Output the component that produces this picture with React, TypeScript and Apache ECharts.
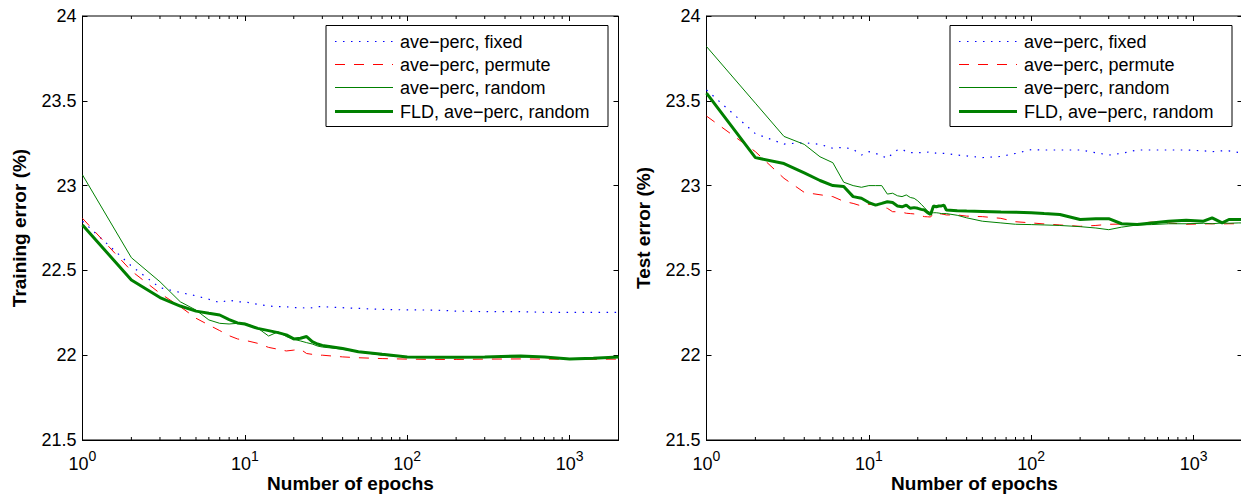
import React, { useEffect, useRef } from "react";
import * as echarts from "echarts";

const FONT = "'Liberation Sans', Arial, Helvetica, sans-serif";

const seriesNames = [
  "ave−perc, fixed",
  "ave−perc, permute",
  "ave−perc, random",
  "FLD, ave−perc, random",
];

const xMin = 1;
const xMax = 2000;
const yMin = 21.5;
const yMax = 24;
const yStep = 0.5;
const minorTickValues = [2, 3, 4, 5, 6, 7, 8, 9, 20, 30, 40, 50, 60, 70, 80, 90, 200, 300, 400, 500, 600, 700, 800, 900];

// Training error plot
const trainEpochs = [1, 2, 3, 4, 5, 6, 7, 8, 9, 10, 12, 14, 16, 18, 20, 22, 24, 26, 28, 30, 40, 50, 70, 100, 150, 200, 300, 500, 700, 1000, 1400, 2000];
const trainFixed = [22.79, 22.526, 22.398, 22.37, 22.35, 22.33, 22.31, 22.325, 22.315, 22.315, 22.3, 22.29, 22.286, 22.286, 22.28, 22.282, 22.276, 22.28, 22.286, 22.286, 22.28, 22.276, 22.27, 22.267, 22.266, 22.26, 22.257, 22.257, 22.253, 22.253, 22.253, 22.253];
const trainPermute = [22.807, 22.497, 22.365, 22.286, 22.218, 22.178, 22.145, 22.115, 22.096, 22.088, 22.07, 22.046, 22.035, 22.025, 22.03, 22.035, 22.01, 22.005, 22.0, 22.0, 21.99, 21.985, 21.98, 21.977, 21.975, 21.975, 21.977, 21.978, 21.977, 21.976, 21.976, 21.977];
const trainRandom = [23.063, 22.575, 22.433, 22.315, 22.266, 22.208, 22.188, 22.184, 22.188, 22.188, 22.16, 22.113, 22.138, 22.11, 22.094, 22.084, 22.074, 22.066, 22.054, 22.048, 22.035, 22.02, 22.0, 21.99, 21.987, 21.986, 21.986, 21.99, 21.988, 21.98, 21.983, 21.988];
const trainFLD = [22.768, 22.443, 22.34, 22.29, 22.26, 22.247, 22.237, 22.21, 22.19, 22.184, 22.158, 22.145, 22.133, 22.12, 22.096, 22.1, 22.11, 22.08, 22.066, 22.058, 22.04, 22.02, 22.005, 21.99, 21.988, 21.988, 21.99, 21.995, 21.99, 21.978, 21.982, 21.99];

// Test error plot
const testEpochs = [1, 2, 3, 4, 5, 6, 7, 8, 9, 10, 11, 12, 13, 14, 15, 16, 17, 18, 19, 20, 21, 22, 23, 24, 25, 26, 27, 28, 29, 30, 35, 40, 50, 65, 80, 100, 120, 150, 200, 250, 300, 360, 450, 550, 700, 900, 1150, 1300, 1500, 1650, 1900, 2000];
const testFixed = [23.564, 23.306, 23.245, 23.253, 23.243, 23.22, 23.226, 23.214, 23.18, 23.2, 23.19, 23.176, 23.16, 23.19, 23.21, 23.215, 23.2, 23.194, 23.194, 23.194, 23.195, 23.194, 23.197, 23.2, 23.197, 23.19, 23.19, 23.19, 23.19, 23.19, 23.18, 23.175, 23.165, 23.172, 23.19, 23.212, 23.21, 23.21, 23.21, 23.194, 23.18, 23.19, 23.21, 23.21, 23.21, 23.21, 23.205, 23.2, 23.205, 23.205, 23.195, 23.195];
const testPermute = [23.41, 23.2, 23.043, 22.96, 22.946, 22.935, 22.907, 22.895, 22.88, 22.89, 22.885, 22.875, 22.866, 22.846, 22.846, 22.843, 22.837, 22.835, 22.833, 22.827, 22.822, 22.817, 22.816, 22.815, 22.837, 22.835, 22.834, 22.833, 22.83, 22.827, 22.827, 22.82, 22.817, 22.807, 22.787, 22.78, 22.774, 22.768, 22.76, 22.765, 22.772, 22.773, 22.776, 22.785, 22.78, 22.772, 22.774, 22.775, 22.774, 22.775, 22.775, 22.775];
const testRandom = [23.82, 23.486, 23.29, 23.243, 23.17, 23.135, 23.02, 23.0, 22.99, 23.0, 23.0, 23.0, 22.95, 22.955, 22.94, 22.935, 22.945, 22.93, 22.925, 22.91, 22.89, 22.87, 22.85, 22.84, 22.84, 22.84, 22.838, 22.835, 22.835, 22.835, 22.825, 22.81, 22.79, 22.78, 22.772, 22.77, 22.768, 22.765, 22.758, 22.75, 22.74, 22.755, 22.768, 22.77, 22.775, 22.775, 22.778, 22.775, 22.78, 22.778, 22.78, 22.78];
const testFLD = [23.545, 23.165, 23.13, 23.075, 23.03, 23.0, 22.995, 22.935, 22.925, 22.9, 22.885, 22.895, 22.905, 22.9, 22.88, 22.875, 22.885, 22.866, 22.87, 22.866, 22.86, 22.856, 22.84, 22.83, 22.88, 22.875, 22.88, 22.88, 22.885, 22.856, 22.852, 22.85, 22.848, 22.845, 22.843, 22.84, 22.835, 22.83, 22.8, 22.805, 22.805, 22.775, 22.77, 22.78, 22.79, 22.795, 22.79, 22.81, 22.78, 22.8, 22.8, 22.8];

const lineStyles: any[] = [
  { color: "#0000ff", width: 1.2, type: [1.5, 6.5] },
  { color: "#ff0000", width: 1, type: [10, 9] },
  { color: "#008000", width: 1, type: "solid" },
  { color: "#008000", width: 3, type: "solid" },
];

const zip = (xs: number[], ys: number[]) => xs.map((x, i) => [x, ys[i]]);

const logLabel = (v: number) => {
  const n = Math.round(Math.log10(v));
  return Math.abs(v - Math.pow(10, n)) < 1e-6 * v ? `{b|10}{s|${n}}` : "";
};

// legend box drawn as graphic (position / size only)
const legendRows = [16, 39, 62, 86];
const buildLegend = (left: number, top: number) => ({
  type: "group",
  x: left,
  y: top,
  z: 100,
  silent: true,
  children: [
    {
      type: "rect",
      shape: { x: 0, y: 0, width: 282, height: 101 },
      style: { fill: "#fff", stroke: "#000", lineWidth: 1 },
    },
    ...seriesNames.flatMap((name, k) => {
      const cy = legendRows[k];
      const ls = lineStyles[k];
      return [
        {
          type: "line",
          shape: { x1: 9, y1: cy, x2: 67, y2: cy },
          style: {
            stroke: ls.color,
            lineWidth: ls.width,
            lineDash: Array.isArray(ls.type) ? ls.type : null,
          },
        },
        {
          type: "text",
          x: 74,
          y: cy + 0.5,
          style: {
            text: name,
            fill: "#000",
            font: `18px ${FONT}`,
            verticalAlign: "middle",
            align: "left",
          },
        },
      ];
    }),
  ],
});

export default function App() {
  const ref = useRef<HTMLDivElement>(null);
  useEffect(() => {
    if (!ref.current) return;
    const chart = echarts.init(ref.current, undefined, { renderer: "svg" });

    const grids = [
      { left: 82.5, top: 16, width: 536, height: 424 },
      { left: 706.5, top: 16, width: 536, height: 424 },
    ];
    const yNames = ["Training error (%)", "Test error (%)"];
    const plots = [
      [trainEpochs, [trainFixed, trainPermute, trainRandom, trainFLD]],
      [testEpochs, [testFixed, testPermute, testRandom, testFLD]],
    ] as [number[], number[][]][];

    const xAxis: any[] = [];
    const yAxis: any[] = [];
    const series: any[] = [];
    grids.forEach((_, g) => {
      xAxis.push({
        gridIndex: g,
        type: "log",
        logBase: 10,
        min: xMin,
        max: xMax,
        position: "bottom",
        axisLine: { show: true, lineStyle: { color: "#000", width: 1 } },
        axisTick: { show: true, inside: true, length: 5, lineStyle: { color: "#000" } },
        splitLine: { show: false },
        axisLabel: {
          formatter: logLabel,
          margin: 9,
          rich: {
            b: { fontSize: 18, fontFamily: FONT, color: "#000", lineHeight: 24, verticalAlign: "bottom" },
            s: { fontSize: 14, fontFamily: FONT, color: "#000", lineHeight: 14, verticalAlign: "top" },
          },
        },
        name: "Number of epochs",
        nameLocation: "middle",
        nameGap: 34,
        nameMoveOverlap: false,
        nameTextStyle: { fontSize: 19, fontWeight: "bold", fontFamily: FONT, color: "#000" },
      });
      xAxis.push({
        gridIndex: g,
        type: "log",
        logBase: 10,
        min: xMin,
        max: xMax,
        position: "top",
        axisLine: { show: false },
        axisTick: { show: true, inside: true, length: 5, lineStyle: { color: "#000" } },
        axisLabel: { show: false },
        splitLine: { show: false },
      });
      yAxis.push({
        gridIndex: g,
        type: "value",
        min: yMin,
        max: yMax,
        interval: yStep,
        position: "left",
        axisLine: { show: true, lineStyle: { color: "#000", width: 1 } },
        axisTick: { show: true, inside: true, length: 5, lineStyle: { color: "#000" } },
        splitLine: { show: false },
        axisLabel: { fontSize: 18, fontFamily: FONT, color: "#000", margin: 6 },
        name: yNames[g],
        nameLocation: "middle",
        nameRotate: 90,
        nameGap: 54,
        nameMoveOverlap: false,
        nameTextStyle: { fontSize: 19, fontWeight: "bold", fontFamily: FONT, color: "#000" },
      });
      yAxis.push({
        gridIndex: g,
        type: "value",
        min: yMin,
        max: yMax,
        interval: yStep,
        position: "right",
        axisLine: { show: false },
        axisTick: { show: true, inside: true, length: 5, lineStyle: { color: "#000" } },
        splitLine: { show: false },
        axisLabel: { show: false },
      });

      const [epochs, vals] = plots[g];
      vals.forEach((v, k) => {
        series.push({
          name: seriesNames[k],
          type: "line",
          xAxisIndex: g * 2,
          yAxisIndex: g * 2,
          data: zip(epochs, v),
          symbol: "none",
          clip: true,
          color: lineStyles[k].color,
          itemStyle: { color: lineStyles[k].color },
          lineStyle: { ...lineStyles[k] },
          z: 2 + k,
        });
      });
      series.push({
        type: "custom",
        xAxisIndex: g * 2,
        yAxisIndex: g * 2,
        silent: true,
        clip: false,
        data: minorTickValues.map((v) => [v, yMin]),
        encode: { x: 0, y: 1 },
        renderItem: (params: any, api: any) => {
          const v = api.value(0);
          const b = api.coord([v, yMin]);
          const t = api.coord([v, yMax]);
          return {
            type: "group",
            children: [
              { type: "line", shape: { x1: b[0], y1: b[1], x2: b[0], y2: b[1] - 3 }, style: { stroke: "#000", lineWidth: 1 } },
              { type: "line", shape: { x1: t[0], y1: t[1], x2: t[0], y2: t[1] + 3 }, style: { stroke: "#000", lineWidth: 1 } },
            ],
          };
        },
        z: 1,
      });
    });

    chart.setOption({
      animation: false,
      backgroundColor: "#fff",
      grid: grids.map((g) => ({
        ...g,
        show: true,
        borderColor: "#000",
        borderWidth: 1,
        backgroundColor: "transparent",
        containLabel: false,
        outerBoundsMode: "none",
      })),
      xAxis,
      yAxis,
      graphic: [buildLegend(326, 25.5), buildLegend(950, 25.5)],
      series,
    });
    return () => chart.dispose();
  }, []);
  return <div ref={ref} style={{ position: "absolute", left: 0, top: 0, width: 1241, height: 495, background: "#fff" }} />;
}
